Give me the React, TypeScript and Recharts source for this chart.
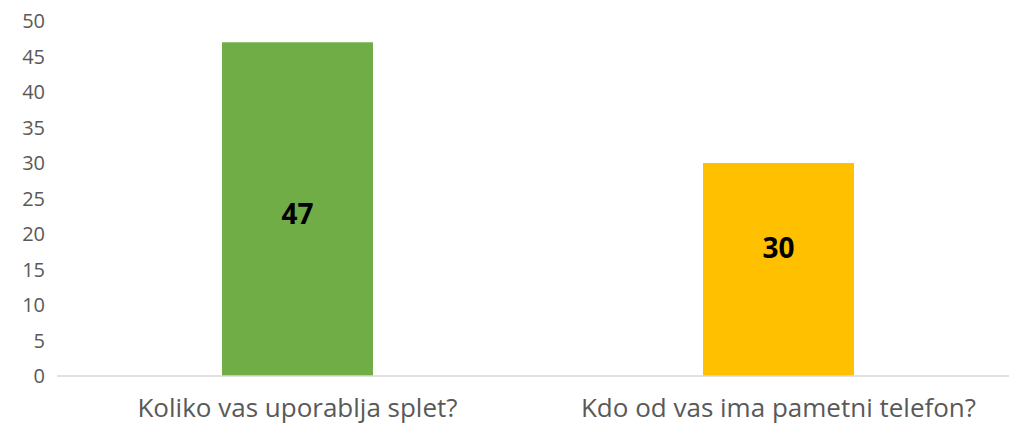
import { Bar, BarChart, Cell, XAxis, YAxis } from "recharts";

const questions = ["Koliko vas uporablja splet?", "Kdo od vas ima pametni telefon?"];
const answers = [47, 30];
const barColors = ["#70AD47", "#FFC000"];
const yTicks = [0, 5, 10, 15, 20, 25, 30, 35, 40, 45, 50];

const data = questions.map((question, i) => ({ question, value: answers[i] }));

// labels in the original sit a bit off the bar middle
const labelShift = [4, -23];

type BarLabelProps = {
  x?: number;
  y?: number;
  width?: number;
  height?: number;
  value?: number;
  index?: number;
};

function BarValueLabel({ x = 0, y = 0, width = 0, height = 0, value, index = 0 }: BarLabelProps) {
  return (
    <text
      x={x + width / 2}
      y={y + height / 2 + (labelShift[index] ?? 0)}
      textAnchor="middle"
      dominantBaseline="central"
      fontFamily="'Open Sans', sans-serif"
      fontWeight={700}
      fontSize={28}
      fill="#000000"
    >
      {value}
    </text>
  );
}

export default function App() {
  return (
    <div
      style={{
        position: "absolute",
        left: 0,
        top: 0,
        width: 1009,
        height: 426,
        overflow: "hidden",
        background: "#fff",
      }}
    >
      <BarChart
        width={1019}
        height={426}
        data={data}
        margin={{ top: 21, right: 0, bottom: 0, left: 0 }}
      >
        <YAxis
          domain={[0, 50]}
          ticks={yTicks}
          width={57}
          axisLine={false}
          tickLine={false}
          tickSize={0}
          tickMargin={12}
          tick={{ fontSize: 20, fill: "#595959", fontFamily: "'Open Sans', sans-serif" }}
        />
        <XAxis
          dataKey="question"
          height={50}
          axisLine={{ stroke: "#D9D9D9", strokeWidth: 1.5 }}
          tickLine={false}
          tickSize={0}
          tickMargin={23}
          tick={{ fontSize: 26, fill: "#595959", fontFamily: "'Open Sans', sans-serif" }}
        />
        <Bar
          dataKey="value"
          barSize={151}
          isAnimationActive={false}
          label={(props: BarLabelProps) => <BarValueLabel {...props} />}
        >
          {data.map((entry, i) => (
            <Cell key={entry.question} fill={barColors[i]} />
          ))}
        </Bar>
      </BarChart>
    </div>
  );
}
